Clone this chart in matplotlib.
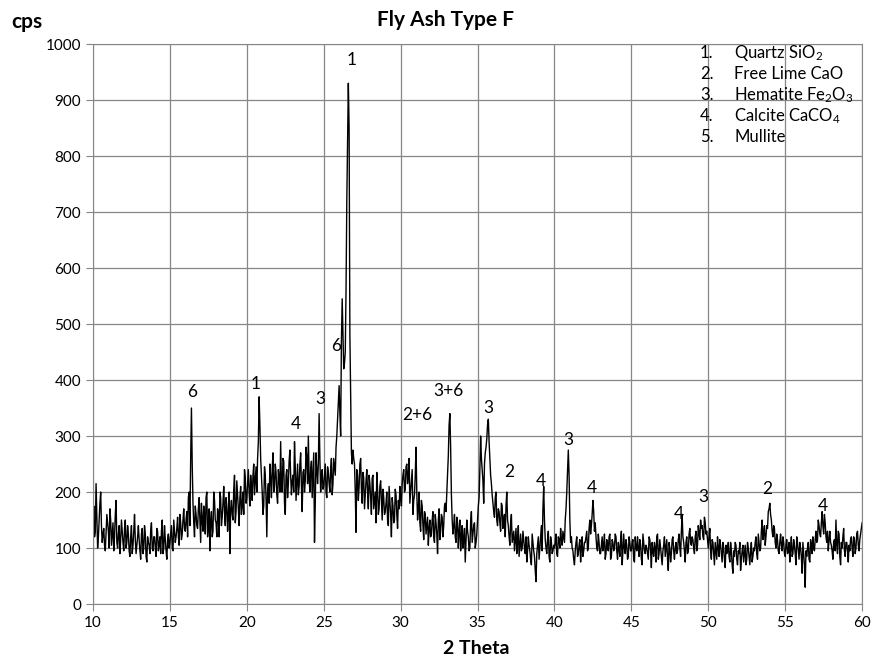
import numpy as np
import matplotlib
matplotlib.use('Agg')
import matplotlib.pyplot as plt

plt.rcParams['font.family'] = ['Lato', 'DejaVu Sans']
plt.rcParams['mathtext.fontset'] = 'custom'
plt.rcParams['mathtext.rm'] = 'Lato'
plt.rcParams['mathtext.default'] = 'regular'

# counts at 10.0, 10.1, ... 60.0 (one row per degree)
cps = [
    140, 120, 215, 100, 150, 200, 110, 135, 95, 160,   # 10
    130, 170, 105, 145, 120, 185, 100, 140, 115, 130,  # 11
    95, 150, 110, 125, 85, 140, 105, 160, 90, 120,     # 12
    115, 80, 135, 100, 125, 75, 110, 90, 145, 95,      # 13
    120, 85, 130, 105, 90, 150, 100, 115, 80, 125,     # 14
    110, 140, 95, 130, 120, 155, 105, 145, 125, 170,   # 15
    130, 165, 190, 140, 350, 180, 120, 160, 135, 190,  # 16
    110, 150, 175, 125, 200, 140, 95, 165, 130, 185,   # 17
    145, 170, 120, 190, 155, 210, 140, 175, 160, 90,   # 18
    185, 150, 230, 165, 195, 140, 210, 175, 160, 225,  # 19
    190, 240, 175, 210, 230, 195, 245, 260, 370, 260,  # 20
    200, 175, 230, 120, 215, 250, 190, 270, 210, 235,  # 21
    180, 225, 290, 200, 255, 160, 240, 215, 275, 195,  # 22
    230, 290, 185, 250, 210, 270, 165, 240, 220, 260,  # 23
    300, 200, 255, 230, 110, 270, 215, 340, 200, 240,  # 24
    210, 250, 190, 235, 200, 260, 215, 245, 280, 330,  # 25
    390, 300, 545, 420, 450, 720, 930, 480, 270, 275,  # 26
    250, 128, 230, 210, 260, 180, 225, 195, 240, 170,  # 27
    215, 160, 230, 185, 145, 205, 170, 220, 150, 190,  # 28
    165, 200, 140, 185, 120, 175, 150, 195, 135, 170,  # 29
    190, 215, 240, 205, 250, 230, 180, 220, 160, 195,  # 30
    280, 150, 200, 130, 175, 115, 160, 140, 105, 150,  # 31
    125, 165, 110, 145, 90, 170, 130, 155, 140, 180,   # 32
    200, 265, 340, 195, 125, 160, 110, 145, 130, 95,   # 33
    140, 115, 75, 150, 120, 100, 165, 125, 145, 110,   # 34
    150, 190, 300, 240, 180, 270, 295, 330, 260, 215,  # 35
    180, 155, 200, 140, 165, 130, 175, 150, 120, 200,  # 36
    140, 105, 160, 120, 95, 135, 110, 85, 125, 100,    # 37
    115, 90, 75, 120, 95, 70, 110, 85, 40, 105,        # 38
    80, 120, 95, 210, 115, 90, 130, 75, 110, 95,       # 39
    100, 125, 85, 115, 135, 105, 120, 150, 200, 275,   # 40
    150, 120, 95, 70, 110, 85, 105, 75, 120, 95,       # 41
    110, 130, 100, 150, 140, 185, 130, 120, 95, 110,   # 42
    90, 120, 105, 80, 115, 95, 125, 85, 110, 100,      # 43
    120, 80, 100, 115, 70, 125, 90, 105, 85, 110,      # 44
    95, 115, 75, 100, 120, 85, 105, 70, 110, 90,       # 45
    100, 80, 115, 65, 95, 110, 75, 125, 90, 100,       # 46
    70, 105, 85, 115, 60, 100, 90, 120, 80, 110,       # 47
    95, 125, 85, 160, 110, 75, 120, 95, 135, 105,      # 48
    115, 90, 130, 105, 125, 150, 140, 115, 145, 130,   # 49
    100, 135, 80, 110, 70, 95, 120, 85, 105, 75,       # 50
    100, 65, 90, 110, 75, 95, 55, 85, 105, 70,         # 51
    90, 60, 95, 75, 105, 80, 100, 70, 110, 85,         # 52
    95, 120, 80, 110, 100, 150, 125, 105, 140, 165,    # 53
    180, 150, 120, 135, 100, 115, 90, 125, 95, 110,    # 54
    85, 115, 95, 75, 120, 90, 105, 70, 110, 80,        # 55
    100, 55, 90, 30, 85, 110, 75, 105, 120, 95,        # 56
    130, 115, 140, 120, 165, 125, 145, 110, 95, 130,   # 57
    105, 80, 115, 150, 90, 125, 70, 100, 135, 85,      # 58
    110, 75, 95, 120, 85, 115, 100, 130, 95, 125,      # 59
    145,                                               # 60
]

# counts at the half steps 10.05, 10.15, ... 59.95
cps_mid = [
    175, 130, 160, 120, 180, 140, 125, 105, 130, 145,  # 10
    100, 150, 125, 95, 160, 110, 125, 90, 150, 110,    # 11
    135, 100, 140, 95, 120, 90, 130, 115, 105, 140,    # 12
    95, 125, 90, 140, 85, 120, 105, 130, 100, 120,     # 13
    100, 135, 95, 120, 130, 90, 140, 95, 115, 100,     # 14
    125, 100, 150, 110, 135, 120, 160, 115, 150, 135,  # 15
    150, 120, 200, 260, 250, 145, 175, 140, 170, 150,  # 16
    180, 130, 155, 190, 120, 170, 150, 120, 200, 150,  # 17
    120, 160, 200, 140, 180, 165, 190, 130, 200, 170,  # 18
    160, 205, 145, 220, 170, 190, 160, 200, 240, 180,  # 19
    215, 200, 230, 185, 250, 220, 200, 290, 320, 230,  # 20
    160, 245, 190, 200, 180, 225, 240, 200, 250, 195,  # 21
    240, 200, 215, 260, 180, 230, 190, 255, 230, 220,  # 22
    200, 245, 220, 195, 250, 210, 235, 200, 280, 215,  # 23
    225, 240, 190, 270, 180, 240, 250, 260, 230, 205,  # 24
    230, 200, 245, 215, 240, 195, 260, 230, 300, 360,  # 25
    340, 470, 480, 430, 560, 820, 850, 380, 250, 260,  # 26
    200, 240, 185, 250, 205, 235, 170, 220, 200, 230,  # 27
    190, 225, 170, 200, 235, 160, 210, 185, 205, 160,  # 28
    180, 150, 210, 160, 190, 145, 205, 160, 185, 210,  # 29
    175, 230, 200, 245, 215, 260, 200, 240, 185, 230,  # 30
    200, 170, 145, 185, 140, 165, 125, 155, 135, 120,  # 31
    150, 120, 160, 125, 150, 115, 160, 120, 175, 165,  # 32
    230, 320, 280, 150, 140, 120, 155, 100, 150, 120,  # 33
    100, 135, 110, 130, 95, 145, 110, 140, 100, 125,   # 34
    175, 240, 260, 220, 250, 280, 320, 290, 230, 195,  # 35
    165, 190, 150, 170, 145, 180, 135, 160, 175, 150,  # 36
    120, 145, 110, 130, 115, 90, 140, 105, 95, 130,    # 37
    100, 120, 95, 105, 80, 125, 95, 60, 90, 120,       # 38
    100, 140, 170, 150, 100, 115, 85, 120, 90, 105,    # 39
    110, 90, 120, 100, 115, 130, 110, 170, 240, 230,   # 40
    110, 100, 80, 95, 120, 90, 115, 100, 85, 110,      # 41
    120, 95, 135, 125, 160, 165, 145, 100, 125, 90,    # 42
    105, 95, 125, 90, 100, 120, 80, 115, 95, 125,      # 43
    95, 110, 85, 130, 95, 100, 115, 80, 120, 95,       # 44
    110, 80, 120, 95, 100, 115, 80, 125, 95, 105,      # 45
    90, 120, 95, 110, 85, 100, 120, 80, 115, 85,       # 46
    95, 120, 100, 80, 110, 75, 115, 95, 100, 90,       # 47
    115, 100, 130, 120, 95, 110, 90, 125, 110, 120,    # 48
    100, 120, 95, 140, 115, 135, 120, 155, 125, 115,   # 49
    120, 95, 115, 90, 110, 80, 100, 115, 90, 110,      # 50
    80, 105, 95, 85, 110, 70, 95, 110, 80, 95,         # 51
    110, 80, 105, 90, 70, 110, 85, 95, 75, 100,        # 52
    110, 90, 125, 95, 130, 115, 140, 120, 135, 170,    # 53
    160, 130, 140, 110, 125, 95, 110, 105, 120, 90,    # 54
    105, 90, 110, 100, 85, 115, 90, 120, 95, 110,      # 55
    85, 110, 70, 95, 100, 80, 115, 90, 100, 115,       # 56
    110, 150, 125, 145, 140, 160, 120, 130, 115, 110,  # 57
    95, 110, 95, 105, 130, 85, 110, 120, 95, 110,      # 58
    95, 105, 115, 100, 120, 90, 125, 105, 115, 135,    # 59
]

# peak labels and where they sit
peak_text = ['1', '6', '1', '4', '3', '6', '2+6', '3+6', '3', '2', '4', '3', '4', '4', '3', '2', '4']
peak_x = [26.8, 16.45, 20.55, 23.2, 24.75, 25.8, 31.1, 33.1, 35.7, 37.05, 39.1, 40.9, 42.45, 48.1, 49.65, 53.8, 57.45]
peak_y = [971, 379, 393, 321, 366, 461, 338, 380, 350, 236, 220, 293, 207, 161, 191, 205, 175]

phase_num = ['1.', '2.', '3.', '4.', '5.']
phase_name = ['Quartz SiO$_2$', 'Free Lime CaO', 'Hematite Fe$_2$O$_3$', 'Calcite CaCO$_4$', 'Mullite']

# put the two readings together: 10.00, 10.05, 10.10 ...
two_theta = 10 + 0.05 * np.arange(len(cps) + len(cps_mid))
counts = np.empty(len(two_theta))
counts[0::2] = cps
counts[1::2] = cps_mid

grey = '#878787'

fig = plt.figure(figsize=(8.74, 6.60), dpi=100)
ax = fig.add_axes([0.1064, 0.0848, 0.88, 0.8485])

ax.plot(two_theta, counts, color='black', lw=1.0)

ax.set_xlim(10, 60)
ax.set_ylim(0, 1000)
ax.set_xticks(np.arange(10, 61, 5))
ax.set_yticks(np.arange(0, 1001, 100))
ax.grid(True, color=grey, lw=0.9)
ax.set_axisbelow(True)
for s in ax.spines.values():
    s.set_color(grey)
ax.tick_params(direction='out', length=5, color=grey, labelsize=11, labelcolor='black')

for t, x, y in zip(peak_text, peak_x, peak_y):
    ax.text(x, y, t, ha='center', va='center', fontsize=12.5)

for i in range(len(phase_num)):
    ypos = 0.984 - i * 0.0375
    ax.text(0.789, ypos, phase_num[i], transform=ax.transAxes, fontsize=12, va='center')
    ax.text(0.834, ypos, phase_name[i], transform=ax.transAxes, fontsize=12, va='center')

fig.text(0.510, 0.970, 'Fly Ash Type F', ha='center', va='center', fontsize=15, fontweight='bold')
fig.text(0.013, 0.967, 'cps', ha='left', va='center', fontsize=15, fontweight='bold')
fig.text(0.545, 0.017, '2 Theta', ha='center', va='center', fontsize=14, fontweight='bold')

fig.savefig('out.png', dpi=100)
